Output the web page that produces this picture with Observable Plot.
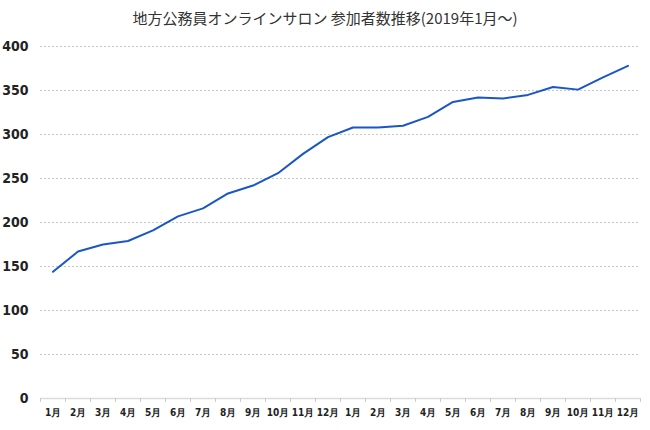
<!DOCTYPE html>
<html><head><meta charset="utf-8">
<script src="https://cdn.jsdelivr.net/npm/d3@7"></script>
<script src="https://cdn.jsdelivr.net/npm/@observablehq/plot@0.6"></script>
<style>
body{margin:0;background:#fff;}
#title{height:36px;line-height:36px;text-align:center;font-family:"Noto Sans CJK JP",sans-serif;font-size:15px;color:#333;}
svg text{font-stretch:condensed;}
</style></head><body>
<div id="title">地方公務員オンラインサロン 参加者数推移(2019年1月～)</div>
<div id="chart"></div>
<script>
const months = ["1月","2月","3月","4月","5月","6月","7月","8月","9月","10月","11月","12月","1月","2月","3月","4月","5月","6月","7月","8月","9月","10月","11月","12月"];
const members = [144,167,175,179,191,207,216,233,242,256,278,297,308,308,310,320,337,342,341,345,354,351,365,378];
const yTicks = [0,50,100,150,200,250,300,350,400];

const data = months.map((m,i)=>({idx:i+1, label:m, value:members[i]}));
const bounds = d3.range(0.5, months.length + 1, 1);

const chart = Plot.plot({
  width:650, height:394,
  marginTop:10, marginBottom:32, marginLeft:40, marginRight:10,
  style:{fontFamily:"'DejaVu Sans Condensed','Liberation Sans Narrow',sans-serif", fontWeight:"bold", color:"#222"},
  x:{domain:[0.5, months.length + 0.5]},
  y:{domain:[0,400]},
  marks:[
    Plot.gridY(yTicks.filter(d=>d>0), {stroke:"#c8c8c8", strokeOpacity:1, strokeDasharray:"2,2"}),
    Plot.ruleY([0], {stroke:"#dcdcdc", strokeWidth:1.5}),
    Plot.axisY(yTicks, {tickSize:0, tickPadding:12, fontSize:14, label:null}),
    Plot.axisX(bounds, {tickSize:4, tickFormat:()=>"", stroke:"#ccc", label:null}),
    Plot.axisX(d3.range(1, months.length+1), {tickSize:0, tickPadding:10, fontSize:10, tickFormat:d=>months[d-1], label:null}),
    Plot.lineY(data, {x:"idx", y:"value", stroke:"#1a57c6", strokeWidth:2})
  ]
});
document.getElementById("chart").appendChild(chart);
</script>
</body></html>
